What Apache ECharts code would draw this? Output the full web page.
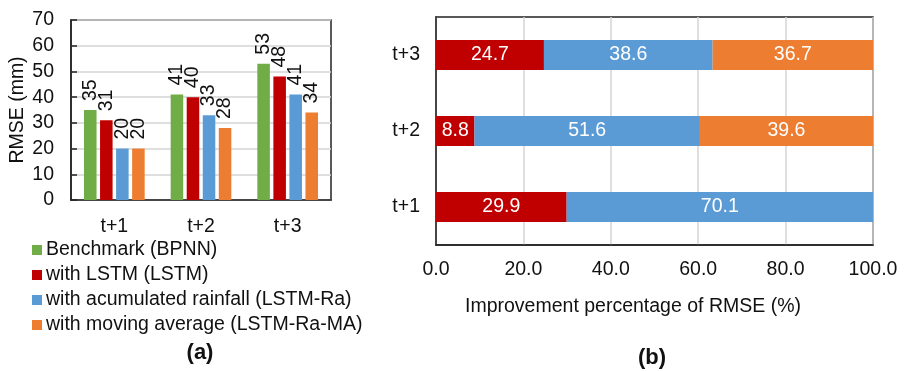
<!DOCTYPE html>
<html>
<head>
<meta charset="utf-8">
<script src="https://cdn.jsdelivr.net/npm/echarts@6/dist/echarts.min.js"></script>
<style>
  html, body { margin: 0; padding: 0; background: #fff; }
  #chart { width: 921px; height: 371px; }
</style>
</head>
<body>
<div id="chart"></div>
<script>
// (a) RMSE per lead time for each model
const horizons = ['t+1', 't+2', 't+3'];
const rmseBPNN = [35, 41, 53];
const rmseLSTM = [31, 40, 48];
const rmseLSTMRa = [20, 33, 41];
const rmseLSTMRaMA = [20, 28, 34];
const modelNames = [
  'Benchmark (BPNN)',
  'with LSTM (LSTM)',
  'with acumulated rainfall (LSTM-Ra)',
  'with moving average (LSTM-Ra-MA)'
];

// (b) share of the RMSE improvement contributed by each step (%)
const gainLSTM = [29.9, 8.8, 24.7];
const gainRa = [70.1, 51.6, 38.6];
const gainMA = [null, 39.6, 36.7];
const xTicks = [0, 20, 40, 60, 80, 100];

const FONT = '"Liberation Sans", Arial, sans-serif';
const FS = 19.5;
const INK = '#111';
const COLORS = ['#70AD47', '#C00000', '#5B9BD5', '#ED7D31'];

const chart = echarts.init(document.getElementById('chart'), null, { renderer: 'canvas' });

const rmseSeries = [rmseBPNN, rmseLSTM, rmseLSTMRa, rmseLSTMRaMA].map((vals, i) => ({
  name: modelNames[i],
  type: 'bar',
  xAxisIndex: 0,
  yAxisIndex: 0,
  data: vals,
  barGap: '28%',
  barCategoryGap: '30%',
  itemStyle: { color: COLORS[i] },
  label: {
    show: true,
    position: 'top',
    rotate: 90,
    align: 'left',
    verticalAlign: 'middle',
    distance: 9,
    fontSize: FS,
    fontFamily: FONT,
    color: INK
  }
}));

const gainSeries = [gainLSTM, gainRa, gainMA].map((vals, i) => ({
  name: modelNames[i + 1] + ' gain',
  type: 'bar',
  stack: 'gain',
  xAxisIndex: 1,
  yAxisIndex: 1,
  data: vals,
  barWidth: 30,
  itemStyle: { color: COLORS[i + 1] },
  label: {
    show: true,
    position: 'inside',
    fontSize: FS,
    fontFamily: FONT,
    color: '#fff',
    formatter: p => (p.value == null ? '' : p.value.toFixed(1))
  }
}));

chart.setOption({
  animation: false,
  backgroundColor: '#fff',
  textStyle: { fontFamily: FONT },
  title: [
    { text: '(a)', left: 195, top: 337, textAlign: 'center',
      textStyle: { fontSize: 22, fontWeight: 'bold', color: INK, fontFamily: FONT } },
    { text: '(b)', left: 647, top: 342, textAlign: 'center',
      textStyle: { fontSize: 22, fontWeight: 'bold', color: INK, fontFamily: FONT } }
  ],
  legend: {
    data: modelNames,
    orient: 'vertical',
    left: 27,
    top: 235,
    itemWidth: 10,
    itemHeight: 10,
    itemGap: 5,
    icon: 'rect',
    textStyle: { fontSize: FS, color: INK, fontFamily: FONT, padding: [0, 0, 0, -1] }
  },
  grid: [
    { left: 71, top: 20, width: 260, height: 180, show: true,
      borderColor: '#222', borderWidth: 1.5, backgroundColor: 'transparent' },
    { left: 436, top: 17, width: 437, height: 228, show: true,
      borderColor: '#222', borderWidth: 1.5, backgroundColor: 'transparent' }
  ],
  xAxis: [
    {
      gridIndex: 0,
      type: 'category',
      data: horizons,
      axisLine: { lineStyle: { color: '#222', width: 1.5 } },
      axisTick: { show: false },
      axisLabel: { fontSize: FS, color: INK, fontFamily: FONT, margin: 17 }
    },
    {
      gridIndex: 1,
      type: 'value',
      min: 0,
      max: 100,
      interval: 20,
      name: 'Improvement percentage of RMSE (%)',
      nameLocation: 'middle',
      nameGap: 52,
      nameTextStyle: { fontSize: FS, color: INK, fontFamily: FONT, padding: [0, 43, 0, 0] },
      axisLine: { show: true, lineStyle: { color: '#222', width: 1.5 } },
      axisTick: { show: false },
      splitLine: { show: true, lineStyle: { color: '#d4d4d4', width: 1.5 } },
      axisLabel: {
        fontSize: FS, color: INK, fontFamily: FONT, margin: 15,
        formatter: v => xTicks.includes(v) ? v.toFixed(1) : ''
      }
    }
  ],
  yAxis: [
    {
      gridIndex: 0,
      type: 'value',
      min: 0,
      max: 70,
      interval: 10,
      name: 'RMSE (mm)',
      nameLocation: 'middle',
      nameGap: 43,
      nameTextStyle: { fontSize: FS, color: INK, fontFamily: FONT },
      axisLine: { show: true, lineStyle: { color: '#222', width: 1.5 } },
      axisTick: { show: true, inside: true, length: 6, lineStyle: { color: '#222', width: 1.5 } },
      splitLine: { show: true, lineStyle: { color: '#d4d4d4', width: 1.5 } },
      axisLabel: { fontSize: FS, color: INK, fontFamily: FONT, margin: 17 }
    },
    {
      gridIndex: 1,
      type: 'category',
      data: horizons,
      axisLine: { show: true, lineStyle: { color: '#222', width: 1.5 } },
      axisTick: { show: false },
      axisLabel: { fontSize: FS, color: INK, fontFamily: FONT, margin: 16 }
    }
  ],
  series: rmseSeries.concat(gainSeries)
});
</script>
</body>
</html>
